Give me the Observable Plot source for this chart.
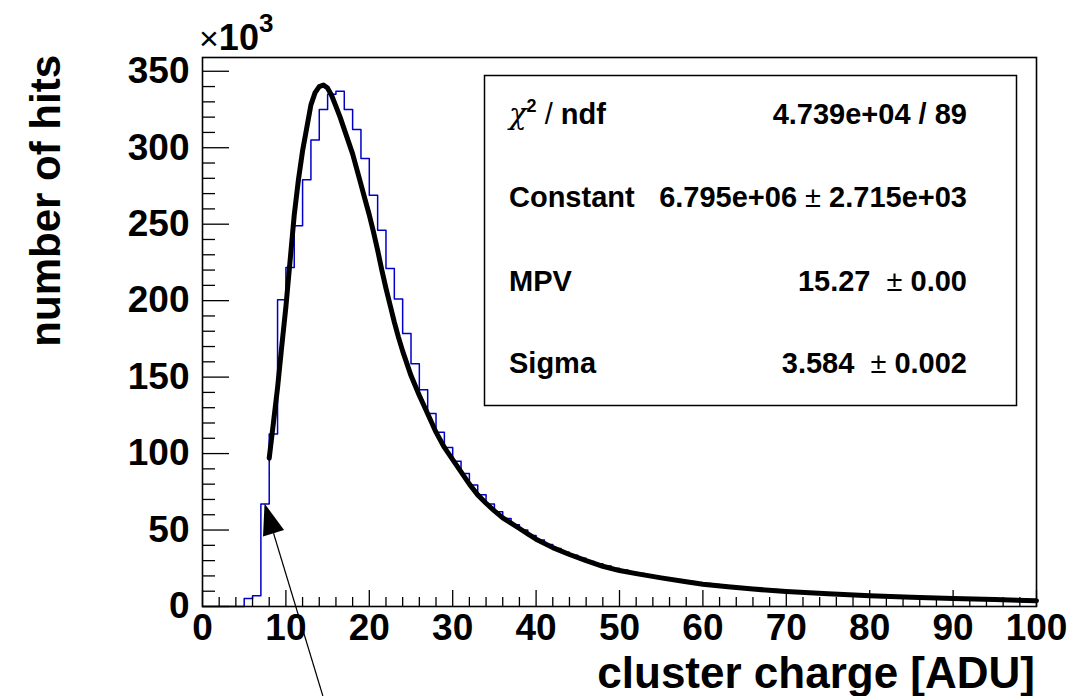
<!DOCTYPE html>
<html><head><meta charset="utf-8">
<script src="https://cdn.jsdelivr.net/npm/d3@7"></script>
<script src="https://cdn.jsdelivr.net/npm/@observablehq/plot@0.6"></script>
<style>
body{margin:0;background:#fff;}
#chart{width:1073px;height:696px;}
</style>
</head><body><div id="chart"></div>
<script>
// Histogram: bin contents (×10^3), bins of width 1 ADU from 0 to 100
const binCounts = [
  0,0,0,0,0,5.2,7.0,67.0,112.8,200.6,
  221.7,249,279,305,325,335,337,325,312,293,
  269,246,221,201,178.6,158.7,141.7,126.2,114,104,
  95,87,79.5,73,67,62,57.5,53.5,50,46.5,
  43.5,40.5,38,35.5,33.5,31.5,29.5,28,26.5,25,
  23.8,22.6,21.5,20.5,19.5,18.6,17.8,17,16.3,15.6,
  15,14.4,13.8,13.3,12.8,12.3,11.9,11.5,11.1,10.7,
  10.3,10,9.6,9.3,9,8.7,8.5,8.2,8,7.7,
  7.5,7.3,7.1,6.9,6.7,6.5,6.3,6.1,6,5.8,
  5.6,5.5,5.3,4.6,5,4.9,4.8,4.6,4.5,3.8
];
// Landau fit curve (×10^3)
const fitX = [8,8.5,9,9.5,10,10.5,11,11.5,12,12.5,13,13.5,14,14.5,15,15.5,16,16.5,17,17.5,18,18.5,19,19.5,20,20.5,21,21.5,22,22.5,23,23.5,24,25,26,27,28,29,30,31,32,33,34,35,36,37,38,39,40,42,44,46,48,50,52,55,58,60,63,66,70,75,80,85,90,95,100];
const fitY = [97,120,143,170,196,226,256,279,298,313,328,336,340,341,339,334,327,320,312,304,296,286,276,266,256,245,233,220,208,197,186,176,167,151,138,126,114,104,96,88,80,73,67.5,62.5,58,54.5,51,47.5,44,38.5,34,30,26.3,23.5,21.5,18.7,16.2,14.6,12.9,11.4,9.8,8.3,7.1,6.1,5.3,4.5,3.8];

const xMajor = [0,10,20,30,40,50,60,70,80,90,100];
const xMinor = [2,4,6,8,12,14,16,18,22,24,26,28,32,34,36,38,42,44,46,48,52,54,56,58,62,64,66,68,72,74,76,78,82,84,86,88,92,94,96,98];
const yMajor = [0,50,100,150,200,250,300,350];
const yMinor = [10,20,30,40,60,70,80,90,110,120,130,140,160,170,180,190,210,220,230,240,260,270,280,290,310,320,330,340];

const statLabels = ["χ2 / ndf","Constant","MPV","Sigma"];
const statValues = [["4.739e+04 / 89"],["6.795e+06"," ± ","2.715e+03"],["15.27","  ± ","0.00"],["3.584","  ± ","0.002"]];
const xTitle = "cluster charge [ADU]";
const yTitle = "number of hits";
const arrowBin = 7;

const histData = binCounts.map((v,i)=>({x:i, y:v}));
histData.push({x:100, y:binCounts[binCounts.length-1]});
const fitData = fitX.map((x,i)=>({x, y:fitY[i]}));

const W=1073,H=696,mL=202,mR=37,mT=57,mB=90;
const innerW=W-mL-mR, innerH=H-mT-mB;
const FONT="'Liberation Sans', Arial, Helvetica, sans-serif";

const plot = Plot.plot({
  width:W, height:H, marginLeft:mL, marginRight:mR, marginTop:mT, marginBottom:mB,
  style:{fontFamily:FONT, background:"white", color:"black"},
  x:{domain:[0,100], label:null},
  y:{domain:[0,359], label:null},
  marks:[
    Plot.lineY(histData, {x:"x", y:"y", curve:"step-after", stroke:"#0000c8", strokeWidth:1.5}),
    Plot.line(fitData, {x:"x", y:"y", stroke:"black", strokeWidth:5, strokeLinejoin:"round"}),
    Plot.tickX(xMajor, {x:d=>d, stroke:"black", strokeWidth:1.3, insetTop:innerH-16}),
    Plot.tickX(xMinor, {x:d=>d, stroke:"black", strokeWidth:1.3, insetTop:innerH-9}),
    Plot.tickY(yMajor, {y:d=>d, stroke:"black", strokeWidth:1.3, insetRight:innerW-27}),
    Plot.tickY(yMinor, {y:d=>d, stroke:"black", strokeWidth:1.3, insetRight:innerW-13}),
    Plot.axisX({ticks:xMajor, tickSize:0, tickPadding:7, fontSize:37, fontWeight:"bold", tickFormat:d=>String(d), label:null}),
    Plot.axisY({ticks:yMajor, tickSize:0, tickPadding:13, fontSize:37, fontWeight:"bold", tickFormat:d=>String(d), label:null}),
    Plot.frame({stroke:"black", strokeWidth:1.6})
  ]
});
document.getElementById("chart").appendChild(plot);

const svg = d3.select(plot);
const sx = plot.scale("x").apply, sy = plot.scale("y").apply;

// ×10^3
const mult = svg.append("text").attr("x",199).attr("y",50).attr("text-anchor","start").attr("font-family",FONT).attr("fill","black");
mult.append("tspan").attr("font-size",34).attr("font-weight","normal").text("×");
mult.append("tspan").attr("font-size",36).attr("font-weight","bold").text("10");
mult.append("tspan").attr("font-size",26).attr("font-weight","bold").attr("dy",-18).text("3");

// axis titles
svg.append("text").attr("x",1035).attr("y",688).attr("text-anchor","end")
  .attr("font-family",FONT).attr("font-size",44).attr("font-weight","bold").attr("fill","black").text(xTitle);
svg.append("text").attr("transform","translate(60,55) rotate(-90)").attr("text-anchor","end")
  .attr("font-family",FONT).attr("font-size",42).attr("font-weight","bold").attr("fill","black").text(yTitle);

// stats box
const g = svg.append("g").attr("font-family",FONT).attr("fill","black");
g.append("rect").attr("x",484.5).attr("y",75.5).attr("width",532).attr("height",330)
  .attr("fill","white").attr("stroke","black").attr("stroke-width",1.5);
const baselines=[124,207,291,373];
statLabels.forEach((lab,i)=>{
  const t = g.append("text").attr("x",509).attr("y",baselines[i]).attr("text-anchor","start")
    .attr("font-size",29).attr("font-weight","bold");
  if(i===0){
    t.append("tspan").attr("font-family","'DejaVu Serif', serif").attr("font-style","italic").attr("font-weight","normal").text("χ");
    t.append("tspan").attr("font-size",18).attr("dy",-12).text("2");
    t.append("tspan").attr("dy",12).attr("font-weight","normal").text(" /");
    t.append("tspan").text(" ndf");
  } else t.text(lab);
  const v = g.append("text").attr("x",967).attr("y",baselines[i]).attr("text-anchor","end")
    .attr("font-size",29).attr("font-weight","bold").style("white-space","pre");
  statValues[i].forEach(s=>{
    const ts = v.append("tspan").text(s);
    if(s.includes("±")) ts.attr("font-weight","normal");
  });
});

// arrow pointing at bin 7
const tip=[sx(arrowBin+0.5), sy(binCounts[arrowBin])];
const dir=[0.29,0.957], perp=[0.957,-0.29];
const len=(H-tip[1])/dir[1];
const base=[tip[0]+31*dir[0], tip[1]+31*dir[1]];
svg.append("line").attr("x1",base[0]).attr("y1",base[1]).attr("x2",tip[0]+len*dir[0]).attr("y2",H)
  .attr("stroke","black").attr("stroke-width",1.2);
svg.append("polygon").attr("points",[tip,[base[0]+11*perp[0],base[1]+11*perp[1]],[base[0]-11*perp[0],base[1]-11*perp[1]]].map(p=>p.join(",")).join(" "))
  .attr("fill","black");
</script>
</body></html>
